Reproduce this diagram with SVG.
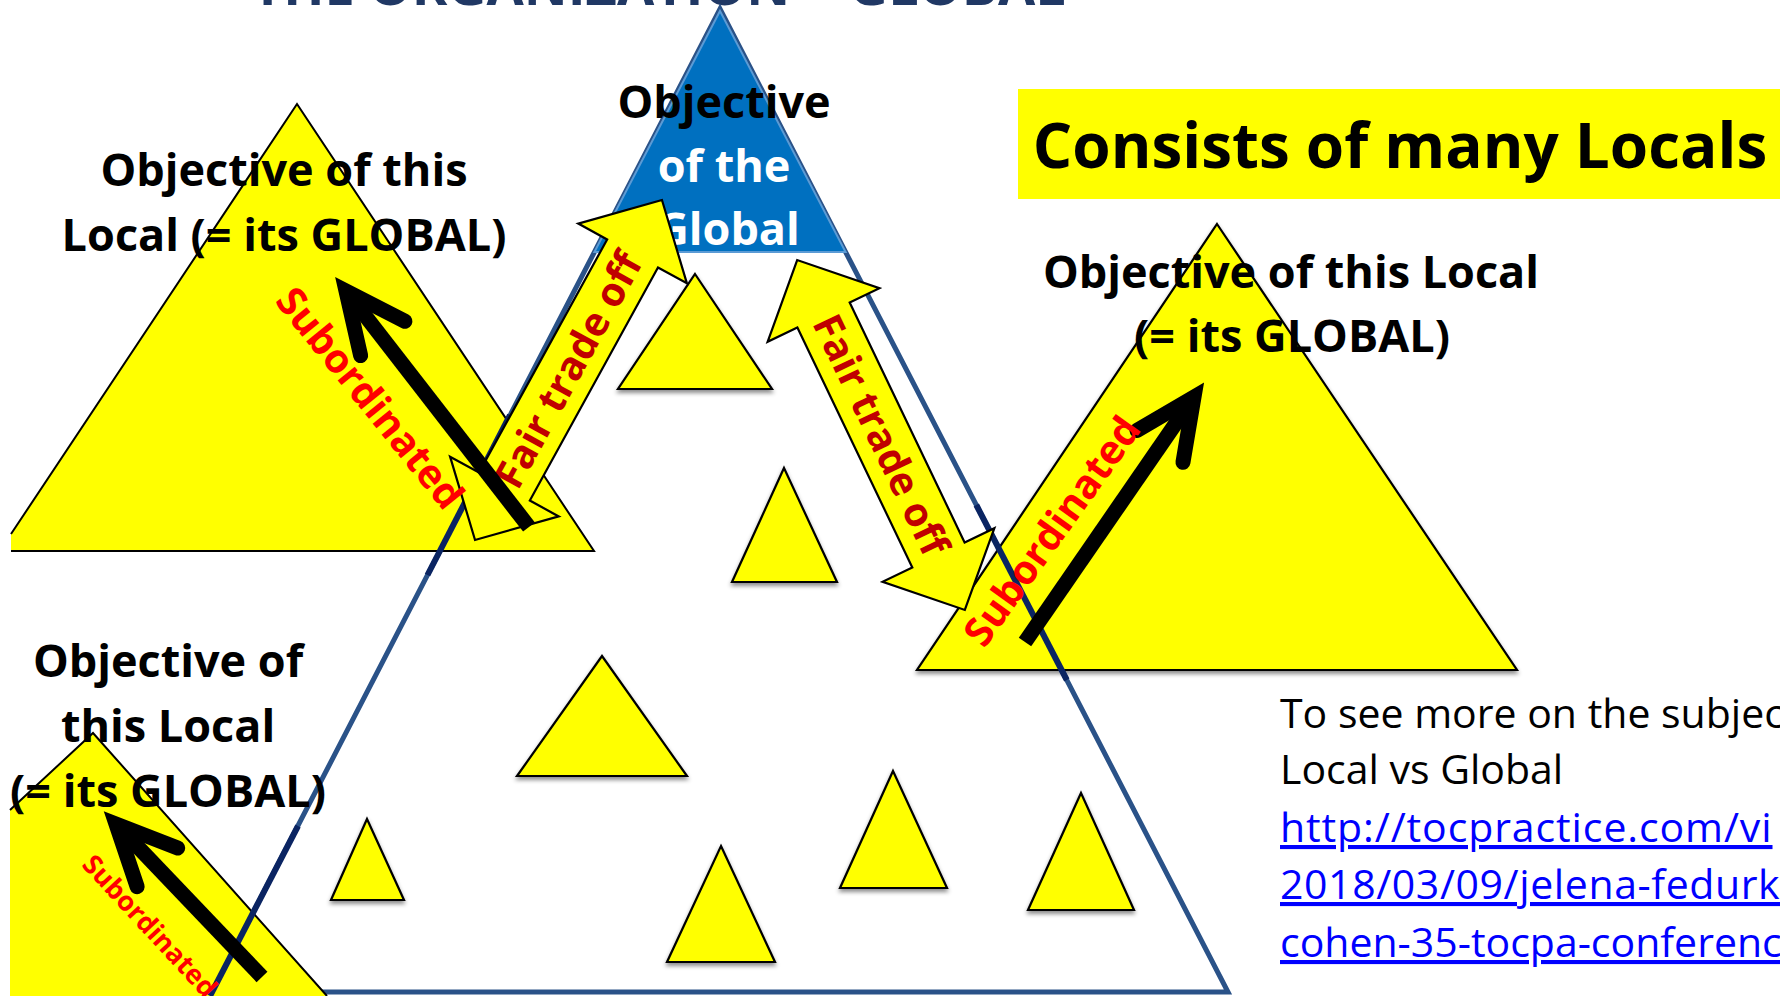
<svg xmlns="http://www.w3.org/2000/svg" width="1780" height="996" viewBox="0 0 1780 996">
  <defs>
    <style>
      .lbl{font-family:"Open Sans","Liberation Sans",sans-serif;font-weight:700;font-size:45px;text-anchor:middle;fill:#000}
      .wht{fill:#FFFFFF}
      .yfill{fill:#FFFF00;stroke:none}
      .edge{fill:none;stroke:#000;stroke-width:2;stroke-linejoin:miter}
      .tri{fill:#FFFF00;stroke:#000;stroke-width:2.2;stroke-linejoin:miter}
      .dbl{fill:#FFFF00;stroke:#000;stroke-width:2.2;stroke-linejoin:miter}
      .trade{font-family:"Open Sans","Liberation Sans",sans-serif;font-weight:700;font-size:40px;fill:#C00000;text-anchor:middle}
      .sub{font-family:"Open Sans","Liberation Sans",sans-serif;font-weight:700;font-size:40px;fill:#FF0000;text-anchor:middle}
      .sub-sm{font-size:27px}
      .shaft{fill:none;stroke:#000;stroke-width:15;stroke-linecap:butt}
      .outline{fill:none;stroke:#2A5288;stroke-width:5;stroke-linejoin:miter}
      .overlap{fill:none;stroke:#0A2462;stroke-width:6;stroke-linecap:butt}
      .note{font-family:"Open Sans","Liberation Sans",sans-serif;font-size:41px;fill:#000}
      .link{fill:#0000FF;text-decoration:underline}
    </style>
    <filter id="shadow" x="-15%" y="-15%" width="130%" height="135%">
      <feDropShadow dx="0" dy="3" stdDeviation="2" flood-color="#000" flood-opacity="0.45"/>
    </filter>
    <marker id="open-head" markerUnits="userSpaceOnUse" orient="auto" refX="0" refY="0" markerWidth="1" markerHeight="1" overflow="visible">
      <path d="M-60,-28 L0,0 L-60,28" fill="none" stroke="#000" stroke-width="15" stroke-linecap="round" stroke-linejoin="miter"/>
    </marker>
  </defs>

  <rect width="1780" height="996" fill="#FFFFFF"/>

  <!-- slide heading, mostly above the visible area -->
  <g id="heading">
    <text x="252" y="5" font-family="'Open Sans','Liberation Sans',sans-serif" font-weight="700" font-size="54" fill="#203864">THE ORGANIZATION = GLOBAL</text>
  </g>

  <!-- outline of the whole organization -->
  <g id="global-outline">
    <polygon class="outline" points="720,9 1228,992 212,992"/>
  </g>

  <!-- objective of the global: blue cap of the pyramid -->
  <g id="global-objective">
    <polygon points="720,11 845.6,252 594.4,252" fill="#0070C0" stroke="#5B9BD5" stroke-width="2"/>
    <text class="lbl" x="724" y="118">Objective</text>
    <text class="lbl wht" x="724" y="182">of the</text>
    <text class="lbl wht" x="728" y="245">Global</text>
  </g>

  <!-- local, upper left -->
  <g id="local-top-left">
    <polygon class="yfill" points="297,104 594,551 11,551 11,534"/>
    <polyline class="edge" points="11,534 297,104 594,551 11,551"/>
    <text class="lbl" x="284" y="186">Objective of this</text>
    <text class="lbl" x="284" y="251">Local (= its GLOBAL)</text>
  </g>

  <!-- local, right -->
  <g id="local-right">
    <polygon class="tri" points="1217,224 1517,670 917,670" filter="url(#shadow)"/>
    <text class="lbl" x="1291" y="288">Objective of this Local</text>
    <text class="lbl" x="1292" y="352">(= its GLOBAL)</text>
  </g>

  <!-- local, lower left -->
  <g id="local-bottom-left">
    <polygon class="yfill" points="93,733 327,996 10,996 10,810"/>
    <polyline class="edge" points="10,810 93,733 327,996"/>
    <text class="lbl" x="168" y="677">Objective of</text>
    <text class="lbl" x="168" y="742">this Local</text>
    <text class="lbl" x="168" y="807">(= its GLOBAL)</text>
  </g>

  <!-- pyramid border where it runs across the locals -->
  <g id="outline-overlaps">
    <line class="overlap" x1="510" y1="415" x2="427.5" y2="575"/>
    <line class="overlap" x1="298" y1="826" x2="210" y2="996"/>
    <line class="overlap" x1="976.3" y1="505" x2="1066.8" y2="680"/>
  </g>

  <!-- small locals inside the organization -->
  <g id="local-a"><polygon class="tri" filter="url(#shadow)" points="695,274 772,389 618,389"/></g>
  <g id="local-b"><polygon class="tri" filter="url(#shadow)" points="784,468 837,582 732,582"/></g>
  <g id="local-c"><polygon class="tri" filter="url(#shadow)" points="602,656 687,776 517,776"/></g>
  <g id="local-d"><polygon class="tri" filter="url(#shadow)" points="367,819 404,900 331,900"/></g>
  <g id="local-e"><polygon class="tri" filter="url(#shadow)" points="721,846 775,962 667,962"/></g>
  <g id="local-f"><polygon class="tri" filter="url(#shadow)" points="893,771 947,888 840,888"/></g>
  <g id="local-g"><polygon class="tri" filter="url(#shadow)" points="1081,793 1134,910 1028,910"/></g>

  <!-- connectors -->
  <g id="connectors">
    <!-- fair trade off, left -->
    <g transform="translate(568.5,370) rotate(-61.2)">
      <polygon class="dbl" points="194,0 133,-62 133,-29 -133,-29 -133,-62 -194,0 -133,62 -133,29 133,29 133,62"/>
      <text class="trade" x="0" y="14">Fair trade off</text>
    </g>
    <!-- fair trade off, right -->
    <g transform="translate(881,435) rotate(64.4)">
      <polygon class="dbl" points="194,0 133,-62 133,-29 -133,-29 -133,-62 -194,0 -133,62 -133,29 133,29 133,62"/>
      <text class="trade" x="0" y="14">Fair trade off</text>
    </g>

    <!-- subordination arrows -->
    <path class="shaft" d="M529,527 L346,291" marker-end="url(#open-head)"/>
    <path class="shaft" d="M1025,642 L1194,397" marker-end="url(#open-head)"/>
    <path class="shaft" d="M262,977 L116,824" marker-end="url(#open-head)"/>

    <text class="sub" transform="translate(370,398) rotate(51)" x="0" y="14">Subordinated</text>
    <text class="sub" transform="translate(1052,531) rotate(-54.3)" x="0" y="14">Subordinated</text>
    <text class="sub sub-sm" transform="translate(150,926) rotate(47.2)" x="0" y="9.6">Subordinated</text>
  </g>

  <!-- caption -->
  <g id="caption">
    <rect x="1018" y="89" width="762" height="110" fill="#FFFF00"/>
    <text x="1400" y="168" font-family="'Open Sans','Liberation Sans',sans-serif" font-weight="700" font-size="62" text-anchor="middle" fill="#000">Consists of many Locals</text>
  </g>

  <!-- reference note -->
  <g id="note">
    <text class="note" x="1280" y="728">To see more on the subjec</text>
    <text class="note" x="1280" y="784">Local vs Global</text>
    <text class="note link" x="1280" y="842" letter-spacing="0.9">http://tocpractice.com/vi</text>
    <text class="note link" x="1280" y="899" letter-spacing="0.6">2018/03/09/jelena-fedurk</text>
    <text class="note link" x="1280" y="957">cohen-35-tocpa-conferenc</text>
  </g>
</svg>
